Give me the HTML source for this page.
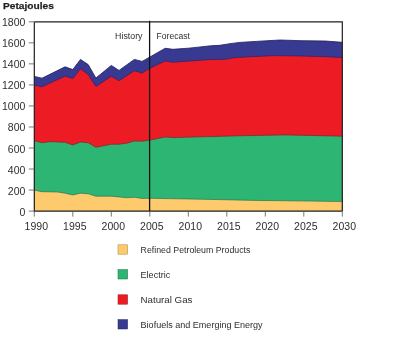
<!DOCTYPE html>
<html><head><meta charset="utf-8"><style>html,body{margin:0;padding:0;background:#fff;width:400px;height:337px;overflow:hidden}svg{display:block;will-change:transform}</style></head>
<body><svg width="400" height="337" viewBox="0 0 400 337">
<polygon points="34.3,211.1 34.30,76.40 42.00,78.20 65.10,66.80 72.80,69.60 80.50,59.40 88.20,64.60 95.90,78.10 111.30,65.40 119.00,70.40 134.40,59.40 142.10,61.40 165.20,48.30 172.90,49.30 188.30,48.20 196.00,47.40 211.40,45.70 220.00,45.30 230.00,43.65 240.00,42.40 260.00,41.15 280.00,40.00 300.00,40.65 325.00,41.00 342.30,42.30 342.3,211.1" fill="#383A92"/>
<polygon points="34.3,211.1 34.30,85.00 42.00,86.80 65.10,76.00 72.80,78.60 80.50,68.70 88.20,74.50 95.90,86.40 111.30,76.20 119.00,80.70 134.40,70.70 142.10,73.00 149.80,68.20 165.20,61.00 172.90,62.25 190.00,61.00 210.00,59.50 225.00,59.30 235.00,57.60 255.00,56.50 275.00,55.60 300.00,56.00 320.00,56.50 342.30,57.50 342.3,211.1" fill="#ED1C24"/>
<polygon points="34.3,211.1 34.30,140.80 42.00,142.75 49.70,141.70 65.10,142.30 72.80,145.00 80.50,142.00 88.20,142.75 95.90,147.30 111.30,144.25 119.00,144.25 126.70,143.20 134.40,141.00 142.10,141.20 149.80,140.10 165.20,137.00 172.90,137.60 195.00,137.00 240.00,135.80 285.00,134.90 342.30,136.20 342.3,211.1" fill="#2DB573"/>
<polygon points="34.3,211.1 34.30,190.20 42.00,191.70 57.40,192.00 65.10,193.20 72.80,195.00 80.50,193.20 88.20,193.80 95.90,196.20 111.30,196.20 126.70,197.70 134.40,197.25 142.10,198.40 149.80,198.30 200.00,199.20 255.00,200.40 310.00,201.10 342.30,201.60 342.3,211.1" fill="#FECA6E"/>
<polyline points="34.30,76.40 42.00,78.20 65.10,66.80 72.80,69.60 80.50,59.40 88.20,64.60 95.90,78.10 111.30,65.40 119.00,70.40 134.40,59.40 142.10,61.40 165.20,48.30 172.90,49.30 188.30,48.20 196.00,47.40 211.40,45.70 220.00,45.30 230.00,43.65 240.00,42.40 260.00,41.15 280.00,40.00 300.00,40.65 325.00,41.00 342.30,42.30" fill="none" stroke="#1c1c5c" stroke-width="0.8" stroke-linejoin="round"/>
<polyline points="34.30,85.00 42.00,86.80 65.10,76.00 72.80,78.60 80.50,68.70 88.20,74.50 95.90,86.40 111.30,76.20 119.00,80.70 134.40,70.70 142.10,73.00 149.80,68.20 165.20,61.00 172.90,62.25 190.00,61.00 210.00,59.50 225.00,59.30 235.00,57.60 255.00,56.50 275.00,55.60 300.00,56.00 320.00,56.50 342.30,57.50" fill="none" stroke="#28206a" stroke-width="0.7" stroke-linejoin="round"/>
<polyline points="34.30,140.80 42.00,142.75 49.70,141.70 65.10,142.30 72.80,145.00 80.50,142.00 88.20,142.75 95.90,147.30 111.30,144.25 119.00,144.25 126.70,143.20 134.40,141.00 142.10,141.20 149.80,140.10 165.20,137.00 172.90,137.60 195.00,137.00 240.00,135.80 285.00,134.90 342.30,136.20" fill="none" stroke="#7a1a28" stroke-width="0.6" stroke-linejoin="round"/>
<polyline points="34.30,190.20 42.00,191.70 57.40,192.00 65.10,193.20 72.80,195.00 80.50,193.20 88.20,193.80 95.90,196.20 111.30,196.20 126.70,197.70 134.40,197.25 142.10,198.40 149.80,198.30 200.00,199.20 255.00,200.40 310.00,201.10 342.30,201.60" fill="none" stroke="#1d6b45" stroke-width="0.6" stroke-linejoin="round"/>
<path d="M34.3,21.9 H342.3 V211.1 M34.3,21.9 V211.1 H342.3" fill="none" stroke="#231f20" stroke-width="1.2"/>
<path d="M28.8,211.10 H34.3 M28.8,190.07 H34.3 M28.8,169.03 H34.3 M28.8,148.00 H34.3 M28.8,126.97 H34.3 M28.8,105.93 H34.3 M28.8,84.90 H34.3 M28.8,63.87 H34.3 M28.8,42.83 H34.3 M28.8,21.80 H34.3 M34.30,211.1 V216.6 M72.80,211.1 V216.6 M111.30,211.1 V216.6 M149.80,211.1 V216.6 M188.30,211.1 V216.6 M226.80,211.1 V216.6 M265.30,211.1 V216.6 M303.80,211.1 V216.6 M342.30,211.1 V216.6" fill="none" stroke="#555" stroke-width="0.8"/>
<path d="M149.6,20.8 V211" stroke="#111" stroke-width="1.3"/>
<text x="25.4" y="215.60" text-anchor="end" font-size="10.5" font-family="Liberation Sans, sans-serif" fill="#2e2e2e">0</text>
<text x="25.4" y="194.57" text-anchor="end" font-size="10.5" font-family="Liberation Sans, sans-serif" fill="#2e2e2e">200</text>
<text x="25.4" y="173.53" text-anchor="end" font-size="10.5" font-family="Liberation Sans, sans-serif" fill="#2e2e2e">400</text>
<text x="25.4" y="152.50" text-anchor="end" font-size="10.5" font-family="Liberation Sans, sans-serif" fill="#2e2e2e">600</text>
<text x="25.4" y="131.47" text-anchor="end" font-size="10.5" font-family="Liberation Sans, sans-serif" fill="#2e2e2e">800</text>
<text x="25.4" y="110.43" text-anchor="end" font-size="10.5" font-family="Liberation Sans, sans-serif" fill="#2e2e2e">1000</text>
<text x="25.4" y="89.40" text-anchor="end" font-size="10.5" font-family="Liberation Sans, sans-serif" fill="#2e2e2e">1200</text>
<text x="25.4" y="68.37" text-anchor="end" font-size="10.5" font-family="Liberation Sans, sans-serif" fill="#2e2e2e">1400</text>
<text x="25.4" y="47.33" text-anchor="end" font-size="10.5" font-family="Liberation Sans, sans-serif" fill="#2e2e2e">1600</text>
<text x="25.4" y="26.30" text-anchor="end" font-size="10.5" font-family="Liberation Sans, sans-serif" fill="#2e2e2e">1800</text>
<text x="36.30" y="230.1" text-anchor="middle" font-size="10.5" font-family="Liberation Sans, sans-serif" fill="#2e2e2e">1990</text>
<text x="74.80" y="230.1" text-anchor="middle" font-size="10.5" font-family="Liberation Sans, sans-serif" fill="#2e2e2e">1995</text>
<text x="113.30" y="230.1" text-anchor="middle" font-size="10.5" font-family="Liberation Sans, sans-serif" fill="#2e2e2e">2000</text>
<text x="151.80" y="230.1" text-anchor="middle" font-size="10.5" font-family="Liberation Sans, sans-serif" fill="#2e2e2e">2005</text>
<text x="190.30" y="230.1" text-anchor="middle" font-size="10.5" font-family="Liberation Sans, sans-serif" fill="#2e2e2e">2010</text>
<text x="228.80" y="230.1" text-anchor="middle" font-size="10.5" font-family="Liberation Sans, sans-serif" fill="#2e2e2e">2015</text>
<text x="267.30" y="230.1" text-anchor="middle" font-size="10.5" font-family="Liberation Sans, sans-serif" fill="#2e2e2e">2020</text>
<text x="305.80" y="230.1" text-anchor="middle" font-size="10.5" font-family="Liberation Sans, sans-serif" fill="#2e2e2e">2025</text>
<text x="344.30" y="230.1" text-anchor="middle" font-size="10.5" font-family="Liberation Sans, sans-serif" fill="#2e2e2e">2030</text>
<text x="3.0" y="9.4" font-size="9.9" font-weight="bold" textLength="50.8" lengthAdjust="spacingAndGlyphs" font-family="Liberation Sans, sans-serif" fill="#231f20" stroke="#231f20" stroke-width="0.25">Petajoules</text>
<text x="115.1" y="38.6" font-size="9.4" textLength="27.4" lengthAdjust="spacingAndGlyphs" font-family="Liberation Sans, sans-serif" fill="#2e2e2e">History</text>
<text x="156.6" y="38.5" font-size="9.4" textLength="33.4" lengthAdjust="spacingAndGlyphs" font-family="Liberation Sans, sans-serif" fill="#2e2e2e">Forecast</text>
<rect x="118" y="244.80" width="9.6" height="9.4" fill="#FECA6E" stroke="#a08540" stroke-width="0.5"/>
<text x="140.6" y="253.10" font-size="9.6" textLength="109.8" lengthAdjust="spacingAndGlyphs" font-family="Liberation Sans, sans-serif" fill="#2e2e2e">Refined Petroleum Products</text>
<rect x="118" y="269.60" width="9.6" height="9.4" fill="#2DB573" stroke="#1d6b45" stroke-width="0.5"/>
<text x="140.6" y="277.90" font-size="9.6" textLength="29.6" lengthAdjust="spacingAndGlyphs" font-family="Liberation Sans, sans-serif" fill="#2e2e2e">Electric</text>
<rect x="118" y="294.80" width="9.6" height="9.4" fill="#ED1C24" stroke="#8a1a20" stroke-width="0.5"/>
<text x="140.6" y="303.10" font-size="9.6" textLength="51.8" lengthAdjust="spacingAndGlyphs" font-family="Liberation Sans, sans-serif" fill="#2e2e2e">Natural Gas</text>
<rect x="118" y="319.60" width="9.6" height="9.4" fill="#383A92" stroke="#20225a" stroke-width="0.5"/>
<text x="140.6" y="327.90" font-size="9.6" textLength="122" lengthAdjust="spacingAndGlyphs" font-family="Liberation Sans, sans-serif" fill="#2e2e2e">Biofuels and Emerging Energy</text>
</svg></body></html>
